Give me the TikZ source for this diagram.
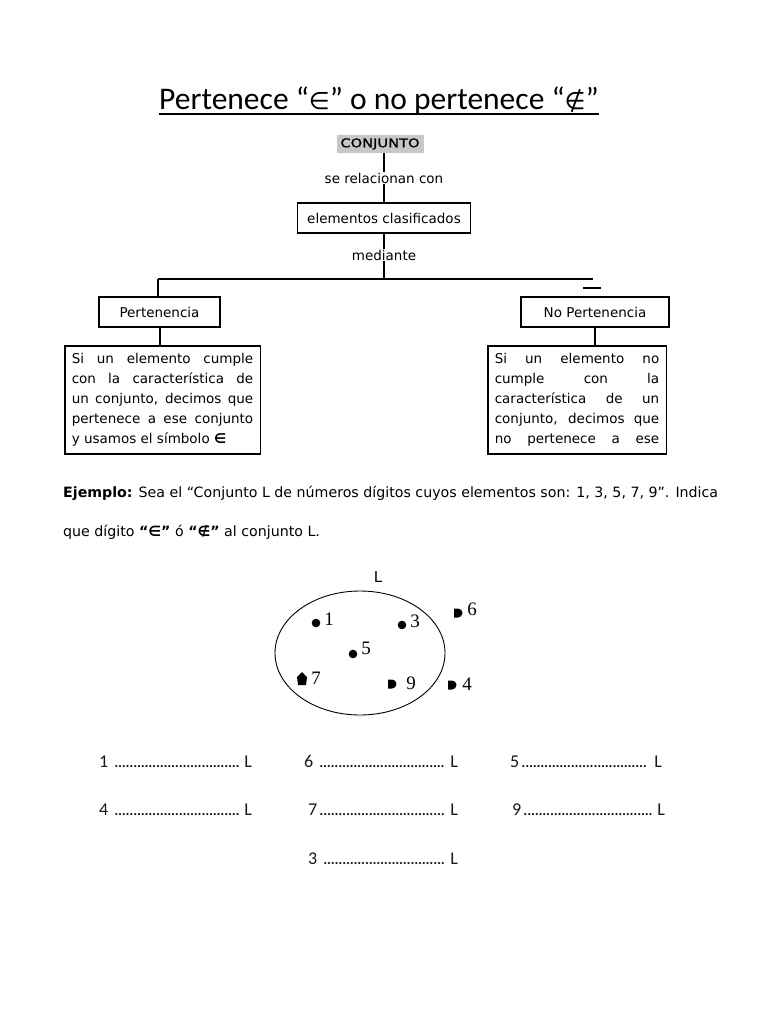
\documentclass[tikz,border=0pt]{standalone}
\usepackage{fontspec}
\usetikzlibrary{positioning, calc}
\setmainfont{DejaVu Sans}
\newfontfamily\titlefont{Carlito}
\newfontfamily\numfont{Liberation Serif}
\newfontfamily\symfont{DejaVu Sans}
\newfontfamily\conjfont[FakeStretch=1.22, FakeBold=1.2]{DejaVu Sans}
\newcommand\puntos{\leaders\hbox to 3.8pt{\hss.\hss}\hfill}

\begin{document}
\begin{tikzpicture}[x=1pt, y=-1pt,
    caja/.style={draw, line width=1.5pt, inner sep=0pt, minimum height=30,
                 font=\fontsize{13.5}{16}\selectfont},
    texto/.style={draw, line width=1.5pt, anchor=north, text width=#1,
                  align=justify, inner xsep=7, inner ysep=4, minimum height=108,
                  font=\fontsize{13.5}{19.8}\selectfont},
    enlace/.style={inner sep=1pt, font=\fontsize{13.5}{16}\selectfont},
    linea/.style={line width=2pt},
    elem/.style={inner sep=0pt, font=\numfont\fontsize{19}{19}\selectfont},
    fila/.style={anchor=base west, inner sep=0pt, text=black!90,
                 font=\titlefont\fontsize{18}{18}\selectfont}
]
\useasboundingbox (0,0) rectangle (768,1024);

% Title
\node[inner sep=0pt, anchor=base, font=\titlefont\fontsize{31.5}{32}\selectfont] (titulo) at (379,110)
  {Pertenece “{\symfont\fontsize{24}{24}\selectfont ∈}” o no pertenece “{\symfont\fontsize{24}{24}\selectfont ∉}”};
\draw[line width=1.2pt] ([yshift=-4pt]titulo.base west) -- ([yshift=-4pt]titulo.base east);

% Concept map
\node[fill=black!22, minimum width=87, minimum height=18, inner sep=0pt,
      font=\conjfont\fontsize{12}{12}\selectfont] (conj) at (380,144) {CONJUNTO};
\node[enlace] (rel) at (384,178) {se relacionan con};
\node[caja, minimum width=173] (elem) at (384,218) {elementos clasificados};
\node[enlace] (med) at (384,255) {mediante};
\coordinate (cruce) at (384,279);
\coordinate (izq) at (158,279);
\coordinate (der) at (593,279);
\coordinate (guion) at (592,288);
\node[caja, minimum width=121] (pert) at (159.5,312) {Pertenencia};
\node[caja, minimum width=148] (nopert) at (595,312) {No Pertenencia};

\node[texto=181.5pt] (sipert) at (162.5,345)
  {Si un elemento cumple\linebreak con la característica de\linebreak un conjunto, decimos que\linebreak
   pertenece a ese conjunto\linebreak y usamos el símbolo \textbf{∈}};
\node[texto=164.5pt] (nopertx) at (577,345)
  {\parfillskip=0pt Si un elemento no\linebreak cumple con la\linebreak característica de un\linebreak
   conjunto, decimos que\linebreak no pertenece a ese\par};

% Connectors
\draw[linea] (conj.south -| rel.north) -- (rel);
\draw[linea] (rel) -- (elem);
\draw[linea] (elem) -- (med);
\draw[linea] (med) -- (cruce);
\draw[linea] (izq) -- (der);
\draw[linea] (izq) -- (izq |- pert.north);
\draw[linea] (pert.south) -- (pert.south |- sipert.north);
\draw[linea] (nopert.south) -- (nopert.south |- nopertx.north);
\draw[line width=2.5pt] ([xshift=-9pt]guion) -- ([xshift=9pt]guion);

% Example
\node[anchor=north west, inner sep=0pt, align=left, font=\fontsize{14.2}{39}\selectfont] (ejemplo) at (63,486)
  {\textbf{Ejemplo:} Sea el “Conjunto L de números dígitos cuyos elementos son: 1, 3, 5, 7, 9”. Indica\\
   que dígito \textbf{“∈”} ó \textbf{“∉”} al conjunto L.};

% Set L
\draw[line width=0.9pt] (360,653) ellipse [x radius=85, y radius=62];
\node[inner sep=0pt, font=\fontsize{15}{15}\selectfont] (L) at (378,577) {L};
\foreach \x/\y in {316/623, 402/625, 353/654}
  \fill (\x,\y) circle [radius=4.3];
\foreach \x/\y in {458/613, 392/684, 452/685}
  \fill (\x,\y) ++(-4,4.5) -- ++(4,0) arc[start angle=90, end angle=-90, radius=4.5] -- ++(-4,0) -- cycle;
\fill (302,672) -- (307,677) -- (306,685) -- (298,685) -- (297,677) -- cycle;
\node[elem] (e1) at (329,619) {1};
\node[elem] (e3) at (415,621) {3};
\node[elem] (e5) at (366,648) {5};
\node[elem] (e7) at (316,678) {7};
\node[elem] (e9) at (411,683) {9};
\node[elem] (e6) at (472,609) {6};
\node[elem] (e4) at (467,684) {4};

% Exercise rows
\node[fila] (f1) at (99,767) {\hbox to 153pt{1 \puntos\ L}};
\node[fila] (f6) at (304,767) {\hbox to 154pt{6 \puntos\ L}};
\node[fila] (f5) at (510,767) {\hbox to 152pt{5\puntos\ L}};
\node[fila] (f4) at (99,815) {\hbox to 153pt{4 \puntos\ L}};
\node[fila] (f7) at (308,815) {\hbox to 150pt{7\puntos\ L}};
\node[fila] (f9) at (512,815) {\hbox to 153pt{9\puntos\ L}};
\node[fila] (f3) at (308,864) {\hbox to 150pt{3 \puntos\ L}};

\end{tikzpicture}
\end{document}
